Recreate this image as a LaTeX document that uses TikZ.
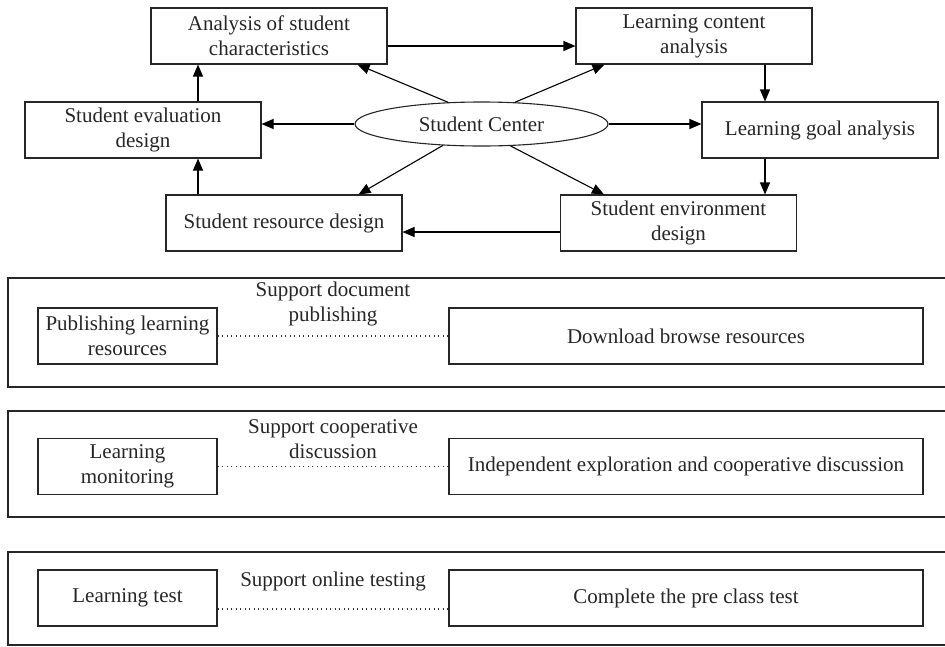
\documentclass[tikz,border=0pt]{standalone}
\usepackage{fontspec}
\setmainfont{Liberation Serif}
\usetikzlibrary{arrows.meta,shapes.geometric,calc}

\begin{document}
\begin{tikzpicture}[->,>={Triangle[length=12pt,width=10pt]},x=1pt,y=-1pt,
                    line width=1.1pt,font=\fontsize{21}{25}\selectfont]
  \tikzstyle{box}=[rectangle,draw=black!85,text=black!85,align=center,minimum width=236pt,minimum height=56pt,inner sep=0pt]
  \tikzstyle{hub}=[ellipse,draw=black!85,text=black!85,minimum width=253pt,minimum height=44pt,inner sep=0pt]
  \tikzstyle{small}=[box,minimum width=179pt]
  \tikzstyle{wide}=[box,minimum width=474pt]
  \tikzstyle{link}=[-,draw=black!80,line width=1.2pt,dash pattern=on 1pt off 3.5pt]
  \tikzstyle{tag}=[text=black!85,align=center,inner sep=0pt]
  \tikzstyle{frame}=[-,draw=black!85]

  \useasboundingbox (0,0) rectangle (945,646);

  % design cycle
  \node[box] (asc) at (269,36)    {Analysis of student\\characteristics};
  \node[box] (lca) at (694,36)    {Learning content\\analysis};
  \node[box] (lga) at (820,130)   {Learning goal analysis};
  \node[box] (sed) at (678.5,223) {Student environment\\design};
  \node[box] (srd) at (284,223)   {Student resource design};
  \node[box] (sev) at (143,130)   {Student evaluation\\design};
  \node[hub] (sc)  at (481.5,124) {Student Center};

  \coordinate (a1) at ($(asc.east)+(0,10)$);
  \coordinate (c1) at ($(lca.south)+(71,0)$);
  \coordinate (g1) at ($(lga.south)+(-55,0)$);
  \coordinate (e1) at ($(sed.west)+(0,9)$);
  \coordinate (r1) at ($(srd.north)+(-86,0)$);
  \coordinate (v1) at ($(sev.north)+(55,0)$);
  \coordinate (d1) at ($(asc.south east)+(-30,0)$);
  \coordinate (d2) at ($(lca.south west)+(29,0)$);
  \coordinate (d3) at ($(srd.north east)+(-44,0)$);
  \coordinate (d4) at ($(sed.north west)+(44,0)$);

  \path (a1) edge (a1 -| lca.west)
        (c1) edge (c1 |- lga.north)
        (g1) edge (g1 |- sed.north)
        (e1) edge (e1 -| srd.east)
        (r1) edge (r1 |- sev.south)
        (v1) edge (v1 |- asc.south)
        (sc.west) edge (sc.west -| sev.east)
        (sc.east) edge (sc.east -| lga.west)
        (sc.147) edge (d1)
        (sc.33)  edge (d2)
        (sc.209) edge (d3)
        (sc.323) edge (d4);

  % support panels
  \draw[frame] (8,278) rectangle (952,387);
  \draw[frame] (8,411) rectangle (952,517);
  \draw[frame] (8,552) rectangle (952,645);

  \node[small] (pub) at (127.5,336) {Publishing learning\\resources};
  \node[wide]  (dbr) at (686,336)   {Download browse resources};
  \node[small] (lmo) at (127.5,466.5) {Learning\\monitoring};
  \node[wide]  (iec) at (686,466.5)   {Independent exploration and cooperative discussion};
  \node[small] (lte) at (127.5,598) {Learning test};
  \node[wide]  (cpt) at (686,598)   {Complete the pre class test};

  \draw[link] (pub.east) -- (dbr.west)
    node[tag,midway,yshift=32.5pt] (s1) {Support document\\publishing};
  \draw[link] (lmo.east) -- (iec.west)
    node[tag,midway,yshift=27pt] (s2) {Support cooperative\\discussion};
  \draw[link] ([yshift=-11pt]lte.east) -- ([yshift=-11pt]cpt.west)
    node[tag,midway,yshift=28pt] (s3) {Support online testing};
\end{tikzpicture}
\end{document}
